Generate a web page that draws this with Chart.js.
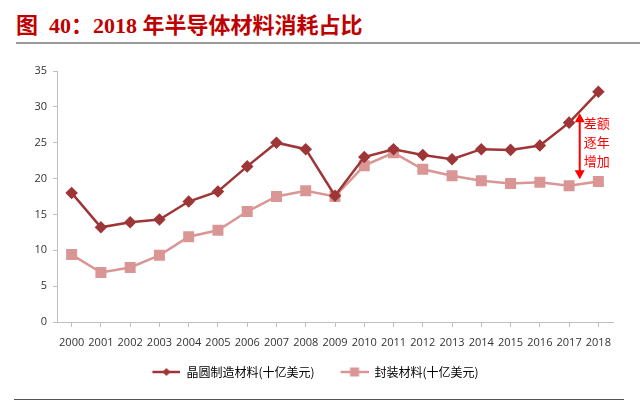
<!DOCTYPE html>
<html>
<head>
<meta charset="utf-8">
<script src="https://cdn.jsdelivr.net/npm/chart.js@4.4.1/dist/chart.umd.min.js"></script>
<style>
  html, body { margin: 0; padding: 0; background: #fff; }
  body { width: 640px; height: 406px; position: relative; overflow: hidden; }
  #title {
    position: absolute; left: 16px; top: 7px;
    font-family: "Liberation Serif", "Noto Sans CJK SC", serif;
    font-weight: bold; font-size: 22px; color: #C00000; white-space: nowrap;
  }
  #topRule { position: absolute; left: 16px; top: 42px; width: 624px; height: 2px; background: #9a9a9a; }
  #bottomRule { position: absolute; left: 14px; top: 399px; width: 610px; height: 1px; background: #555; }
  #wrap { position: absolute; left: 0; top: 0; width: 640px; height: 406px; }
</style>
</head>
<body>
<div id="title">图&nbsp;&nbsp;40：2018 年半导体材料消耗占比</div>
<div id="topRule"></div>
<div id="bottomRule"></div>
<div id="wrap"><canvas id="c"></canvas></div>
<script>
// 数据（单位：十亿美元）
const years = ['2000','2001','2002','2003','2004','2005','2006','2007','2008','2009',
               '2010','2011','2012','2013','2014','2015','2016','2017','2018'];
const waferMaterials = [18.0, 13.2, 13.9, 14.3, 16.8, 18.2, 21.7, 25.0, 24.1, 17.6,
                        23.0, 24.1, 23.3, 22.7, 24.1, 24.0, 24.6, 27.8, 32.1];
const packagingMaterials = [9.4, 6.9, 7.6, 9.3, 11.9, 12.8, 15.4, 17.5, 18.3, 17.5,
                            21.8, 23.6, 21.3, 20.4, 19.7, 19.3, 19.5, 19.0, 19.6];
const seriesNames = ['晶圆制造材料(十亿美元)', '封装材料(十亿美元)'];
const noteLines = ['差额', '逐年', '增加'];

const darkRed = '#9E3638';
const lightRed = '#D99694';

// 图例用的小图标：左边留空，再画线段加标记
function legendIcon(color, shape) {
  const cv = document.createElement('canvas');
  cv.width = 46; cv.height = 12;
  const g = cv.getContext('2d');
  g.strokeStyle = color; g.lineWidth = 2.5;
  g.beginPath(); g.moveTo(18, 6); g.lineTo(46, 6); g.stroke();
  g.fillStyle = color;
  if (shape === 'diamond') {
    g.beginPath(); g.moveTo(32, 2); g.lineTo(36, 6); g.lineTo(32, 10); g.lineTo(28, 6); g.closePath(); g.fill();
  } else {
    g.fillRect(27.5, 1.5, 9, 9);
  }
  return cv;
}
const icons = [legendIcon(darkRed, 'diamond'), legendIcon(lightRed, 'square')];

// 差额箭头和说明文字
const notePlugin = {
  id: 'note',
  afterDatasetsDraw(chart) {
    const { ctx, scales: { x, y } } = chart;
    const ax = (x.getPixelForValue(17) + x.getPixelForValue(18)) / 2 - 4;
    const yTop = y.getPixelForValue(29.1);
    const yBot = y.getPixelForValue(19.9);
    ctx.save();
    ctx.strokeStyle = '#FF0000'; ctx.fillStyle = '#FF0000'; ctx.lineWidth = 2;
    ctx.beginPath(); ctx.moveTo(ax, yTop + 6); ctx.lineTo(ax, yBot - 6); ctx.stroke();
    ctx.beginPath(); ctx.moveTo(ax, yTop); ctx.lineTo(ax - 5, yTop + 9); ctx.lineTo(ax + 5, yTop + 9); ctx.closePath(); ctx.fill();
    ctx.beginPath(); ctx.moveTo(ax, yBot); ctx.lineTo(ax - 5, yBot - 9); ctx.lineTo(ax + 5, yBot - 9); ctx.closePath(); ctx.fill();
    ctx.font = '13px "Noto Sans CJK SC"';
    ctx.textAlign = 'left'; ctx.textBaseline = 'middle';
    noteLines.forEach((t, i) => ctx.fillText(t, ax + 4, yTop + 10 + i * 19));
    ctx.restore();
  }
};

new Chart(document.getElementById('c'), {
  type: 'line',
  data: {
    labels: years,
    datasets: [{
      label: seriesNames[0],
      data: waferMaterials,
      borderColor: darkRed,
      backgroundColor: darkRed,
      borderWidth: 2.5,
      pointStyle: 'rectRot',
      pointRadius: 4.5,
      pointHoverRadius: 4.5,
      tension: 0
    }, {
      label: seriesNames[1],
      data: packagingMaterials,
      borderColor: lightRed,
      backgroundColor: lightRed,
      borderWidth: 2.5,
      pointStyle: 'rect',
      pointRadius: 6,
      pointHoverRadius: 6,
      tension: 0
    }]
  },
  options: {
    responsive: true,
    maintainAspectRatio: false,
    animation: false,
    layout: { padding: { top: 71, left: 0, right: 27, bottom: 18 } },
    plugins: {
      tooltip: { enabled: false },
      legend: {
        position: 'bottom',
        labels: {
          usePointStyle: true,
          pointStyleWidth: 46,
          color: '#333',
          font: { family: '"Noto Sans CJK SC"', size: 12 },
          padding: 8,
          generateLabels(chart) {
            return chart.data.datasets.map((ds, i) => ({
              text: ds.label,
              pointStyle: icons[i],
              fillStyle: ds.borderColor,
              strokeStyle: ds.borderColor,
              lineWidth: 0,
              datasetIndex: i,
              hidden: false
            }));
          }
        }
      }
    },
    scales: {
      x: {
        offset: true,
        border: { color: '#BFBFBF' },
        grid: { drawOnChartArea: false, drawTicks: true, tickLength: 5, color: '#BFBFBF' },
        ticks: { color: '#333', font: { family: '"Open Sans"', size: 11 }, maxRotation: 0, autoSkip: false, padding: 9 },
        afterFit(s) { s.height = 36; }
      },
      y: {
        min: 0, max: 35,
        border: { color: '#BFBFBF' },
        grid: { drawOnChartArea: false, drawTicks: true, tickLength: 4, color: '#BFBFBF' },
        ticks: { stepSize: 5, color: '#333', font: { family: '"Open Sans"', size: 11 }, padding: 6 },
        afterFit(s) { s.width = 57; }
      }
    }
  },
  plugins: [notePlugin]
});
</script>
</body>
</html>
